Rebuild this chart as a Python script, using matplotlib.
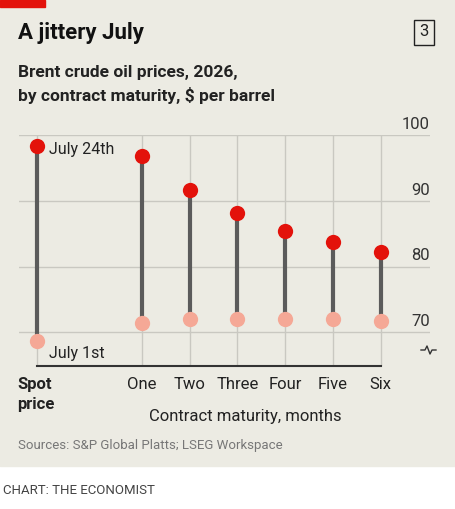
import matplotlib
matplotlib.use("Agg")
import matplotlib.pyplot as plt
from matplotlib.patches import Rectangle
from matplotlib.lines import Line2D

categories = ["One", "Two", "Three", "Four", "Five", "Six"]
spot_july24 = 98.4
spot_july1 = 68.7
july24 = [96.8, 91.6, 88.1, 85.4, 83.7, 82.2]
july1 = [71.5, 72.0, 72.1, 72.1, 72.0, 71.8]
yticks = [70, 80, 90, 100]

BG = "#ECEBE3"
RED = "#E3120B"
PINK = "#F5A896"
STEM = "#5B5B5B"
plt.rcParams['font.family'] = ['Roboto', 'DejaVu Sans']

fig = plt.figure(figsize=(4.55, 5.09), dpi=100)
fig.patch.set_facecolor("white")
fig.add_artist(Rectangle((0, 1 - 466/509), 1, 466/509, transform=fig.transFigure, color=BG, zorder=0))
fig.add_artist(Rectangle((0, 1 - 7/509), 45/455, 7/509, transform=fig.transFigure, color=RED, zorder=1))

ax = fig.add_axes([19/455, 1 - 366/509, (430 - 19)/455, (366 - 135)/509])
ax.set_facecolor("none")
ax.set_xlim(-1.57, 7.03)
ax.set_ylim(64.9, 100)
for s in ax.spines.values():
    s.set_visible(False)
ax.set_xticks([]); ax.set_yticks([])

xs = list(range(1, 7))
spot_x = -1.2
for y in yticks:
    ax.axhline(y, color="#C9C8C1", lw=1, zorder=1)
    ax.text(1.0, y + 0.5, str(y), transform=ax.get_yaxis_transform(), ha="right", va="bottom",
            fontsize=12, color="#333333")
for x in [spot_x] + xs:
    ax.axvline(x, color="#C9C8C1", lw=1, zorder=1)
ax.plot([spot_x, 6], [64.9, 64.9], color="#333333", lw=1.5, clip_on=False, zorder=3)

ax.vlines([spot_x] + xs, [spot_july1] + july1, [spot_july24] + july24, color=STEM, lw=3, zorder=2)
ax.plot([spot_x] + xs, [spot_july1] + july1, "o", color=PINK, ms=11, mec="none", zorder=3)
ax.plot([spot_x] + xs, [spot_july24] + july24, "o", color=RED, ms=11, mec="none", zorder=3)

ax.text(spot_x + 0.25, spot_july24 - 0.6, "July 24th", fontsize=11.5, va="center", color="#222222")
ax.text(spot_x + 0.25, 66.8, "July 1st", fontsize=11.5, va="center", color="#222222")

for x, c in zip(xs, categories):
    ax.text(x, 63.2, c, ha="center", va="top", fontsize=12, color="#222222")
ax.text(spot_x - 0.4, 63.2, "Spot\nprice", ha="left", va="top", fontsize=12, fontweight="bold",
        color="#222222", linespacing=1.4)

fx = [421, 425, 427, 430, 432, 436]
fy = [350, 350, 346, 354, 350, 350]
fig.add_artist(Line2D([v/455 for v in fx], [1 - v/509 for v in fy], color="#333333", lw=1))

fig.text(245/455, 1 - 416/509, "Contract maturity, months", ha="center", va="center", fontsize=12, color="#222222")
fig.text(18/455, 1 - 446/509, "Sources: S&P Global Platts; LSEG Workspace", ha="left", va="center", fontsize=9.5, color="#777777")
fig.text(3/455, 1 - 490/509, "CHART: THE ECONOMIST", ha="left", va="center", fontsize=9.5, color="#444444")

fig.text(18/455, 1 - 33/509, "A jittery July", ha="left", va="center", fontsize=16, fontweight="bold", color="#111111")
fig.text(18/455, 1 - 72/509, "Brent crude oil prices, 2026,", ha="left", va="center", fontsize=12.5, fontweight="bold", color="#222222")
fig.text(18/455, 1 - 96/509, "by contract maturity, $ per barrel", ha="left", va="center", fontsize=12.5, fontweight="bold", color="#222222")
fig.text(424/455, 1 - 32/509, "3", ha="center", va="center", fontsize=12, color="#222222",
         bbox=dict(boxstyle="square,pad=0.3", fc="none", ec="#222222", lw=1))

fig.savefig("out.png", dpi=100, facecolor=fig.get_facecolor())
